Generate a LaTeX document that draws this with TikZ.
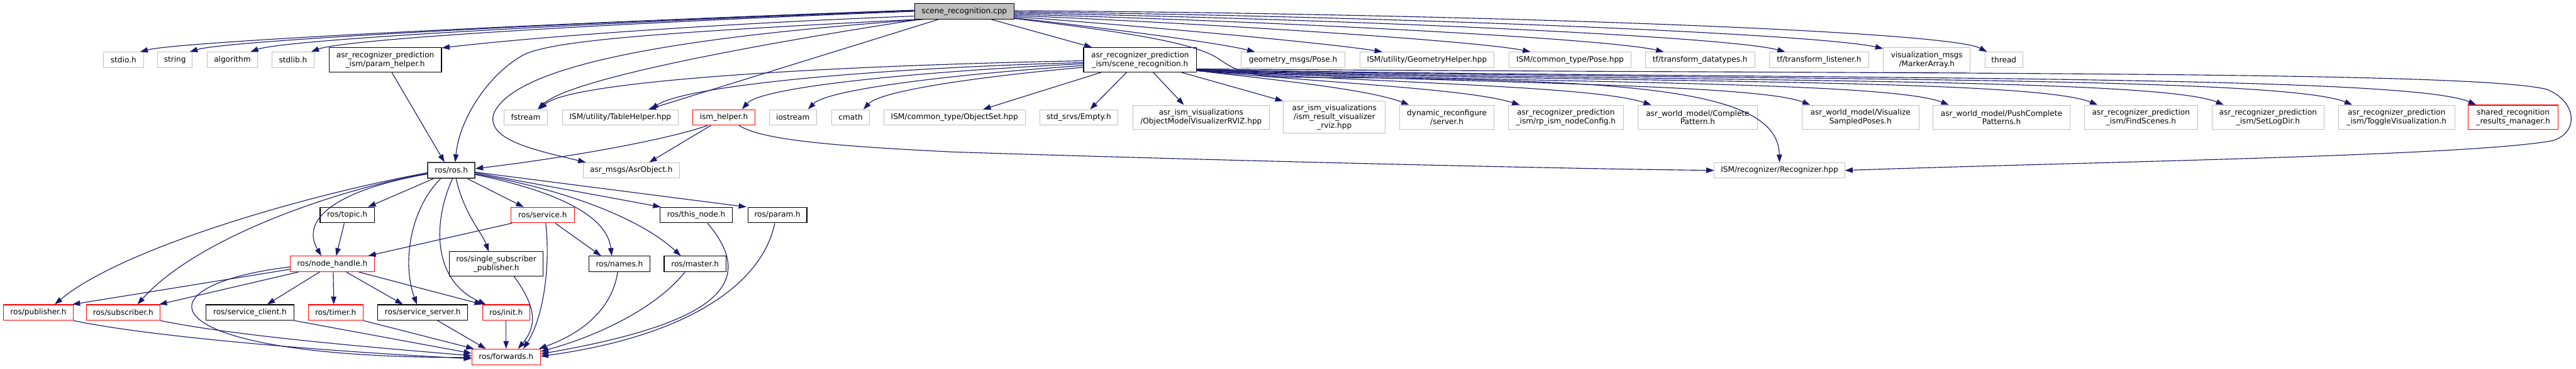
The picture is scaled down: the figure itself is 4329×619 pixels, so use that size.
\documentclass[tikz,border=0pt]{standalone}
\usepackage{fontspec}
\setmainfont{DejaVu Sans}
\usetikzlibrary{arrows.meta}
\definecolor{edgec}{HTML}{191970}
\definecolor{gborder}{HTML}{BFBFBF}
\definecolor{cppfill}{HTML}{BFBFBF}
\definecolor{rborder}{HTML}{FF0000}
\definecolor{rosb}{HTML}{404040}
\begin{document}
\begin{tikzpicture}[x=1pt,y=-1pt,
  box/.style={rectangle, inner sep=0pt, align=center, fill=white, font=\fontsize{12.8}{14.5}\selectfont},
  gb/.style={box, draw=gborder, line width=1pt},
  bb/.style={box, draw=black, line width=1.3pt},
  rb/.style={box, draw=rborder, line width=1.2pt},
  wd/.style={minimum width=#1pt},
  s1/.style={minimum height=26pt},
  s2/.style={minimum height=41pt},
  s3/.style={minimum height=54pt},
  ed/.style={draw=edgec, line width=1.2pt, -{Triangle[length=13pt,width=9pt]}}]
\useasboundingbox (0,0) rectangle (4329,619);
% row 0
\node[bb, fill=cppfill, wd=167, s1] (cpp) at (1620.5,19) {scene\_recognition.cpp};
% row 1
\node[gb, wd=67, s1] (stdio) at (207.5,100.5) {stdio.h};
\node[gb, wd=58, s1] (string) at (294,100.5) {string};
\node[gb, wd=85, s1] (algorithm) at (390.5,100.5) {algorithm};
\node[gb, wd=71, s1] (stdlib) at (492.5,100.5) {stdlib.h};
\node[bb, wd=189, s2] (paramhelper) at (647.5,100.5) {asr\_recognizer\_prediction\\\_ism/param\_helper.h};
\node[bb, wd=190, s2] (sceneh) at (1916,100.5) {asr\_recognizer\_prediction\\\_ism/scene\_recognition.h};
\node[gb, wd=174, s1] (geom) at (2173,100.5) {geometry\_msgs/Pose.h};
\node[gb, wd=226, s1] (geohelp) at (2398,100.5) {ISM/utility/GeometryHelper.hpp};
\node[gb, wd=205, s1] (cpose) at (2638.5,100.5) {ISM/common\_type/Pose.hpp};
\node[gb, wd=184, s1] (tfdata) at (2857,100.5) {tf/transform\_datatypes.h};
\node[gb, wd=166, s1] (tflisten) at (3057,100.5) {tf/transform\_listener.h};
\node[gb, wd=146, s2] (marker) at (3238,100.5) {visualization\_msgs\\/MarkerArray.h};
\node[gb, wd=63, s1] (thread) at (3367.5,100.5) {thread};
% row 2
\node[gb, wd=73, s1] (fstream) at (883.5,197) {fstream};
\node[gb, wd=195, s1] (tablehelper) at (1042.5,197) {ISM/utility/TableHelper.hpp};
\node[rb, wd=105, s1] (ismhelper) at (1216.5,197) {ism\_helper.h};
\node[gb, wd=79, s1] (iostream) at (1332.5,197) {iostream};
\node[gb, wd=63, s1] (cmath) at (1429.5,197) {cmath};
\node[gb, wd=238, s1] (objset) at (1604,197) {ISM/common\_type/ObjectSet.hpp};
\node[gb, wd=132, s1] (empty) at (1813,197) {std\_srvs/Empty.h};
\node[gb, wd=229, s2] (objmodel) at (2018.5,197) {asr\_ism\_visualizations\\/ObjectModelVisualizerRVIZ.hpp};
\node[gb, wd=171, s3] (ismresult) at (2242.5,197) {asr\_ism\_visualizations\\/ism\_result\_visualizer\\\_rviz.hpp};
\node[gb, wd=159, s2] (dynrec) at (2431.5,197) {dynamic\_reconfigure\\/server.h};
\node[gb, wd=193, s2] (rpism) at (2631.5,197) {asr\_recognizer\_prediction\\\_ism/rp\_ism\_nodeConfig.h};
\node[gb, wd=200, s2] (complete) at (2853,197) {asr\_world\_model/Complete\\Pattern.h};
\node[gb, wd=197, s2] (vissampled) at (3126.5,197) {asr\_world\_model/Visualize\\SampledPoses.h};
\node[gb, wd=231, s2] (pushcomplete) at (3363.5,197) {asr\_world\_model/PushComplete\\Patterns.h};
\node[gb, wd=190, s2] (findscenes) at (3598,197) {asr\_recognizer\_prediction\\\_ism/FindScenes.h};
\node[gb, wd=189, s2] (setlogdir) at (3811.5,197) {asr\_recognizer\_prediction\\\_ism/SetLogDir.h};
\node[gb, wd=195, s2] (toggle) at (4027.5,197) {asr\_recognizer\_prediction\\\_ism/ToggleVisualization.h};
\node[rb, wd=151, s2] (shared) at (4223.5,197) {shared\_recognition\\\_results\_manager.h};
% row 3
\node[box, draw=rosb, line width=1.8pt, wd=79, s1] (ros) at (758.5,286) {ros/ros.h};
\node[gb, wd=162, s1] (asrobj) at (1061,286) {asr\_msgs/AsrObject.h};
\node[gb, wd=219, s1] (recog) at (2990.5,286) {ISM/recognizer/Recognizer.hpp};
% row 4
\node[bb, wd=91, s1] (topic) at (583.5,361) {ros/topic.h};
\node[rb, wd=106, s1] (service) at (912,361) {ros/service.h};
\node[bb, wd=122, s1] (thisnode) at (1170,361) {ros/this\_node.h};
\node[bb, wd=99, s1] (rosparam) at (1306.5,361) {ros/param.h};
% row 5
\node[rb, wd=141, s1] (nodehandle) at (558.5,443) {ros/node\_handle.h};
\node[bb, wd=158, s2] (single) at (834,443) {ros/single\_subscriber\\\_publisher.h};
\node[bb, wd=102, s1] (names) at (1041,443) {ros/names.h};
\node[bb, wd=104, s1] (master) at (1168,443) {ros/master.h};
% row 6
\node[rb, wd=117, s1] (publisher) at (64.5,524.5) {ros/publisher.h};
\node[rb, wd=124, s1] (subscriber) at (207,524.5) {ros/subscriber.h};
\node[bb, wd=148, s1] (sclient) at (420,524.5) {ros/service\_client.h};
\node[rb, wd=92, s1] (timer) at (564,524.5) {ros/timer.h};
\node[bb, wd=151, s1] (sserver) at (710.5,524.5) {ros/service\_server.h};
\node[rb, wd=79, s1] (init) at (850.5,524.5) {ros/init.h};
% row 7
\node[rb, wd=115, s1] (forwards) at (850.5,599) {ros/forwards.h};

% ---- edges from cpp (left)
\draw[ed] ([yshift=2pt]cpp.west) .. controls (900,40) and (300,70) .. ([xshift=28pt]stdio.north);
\draw[ed] ([yshift=1.5pt]cpp.west) .. controls (950,38) and (380,68) .. ([xshift=25pt]string.north);
\draw[ed] ([yshift=1pt]cpp.west) .. controls (1000,38) and (480,66) .. ([xshift=30.5pt]algorithm.north);
\draw[ed] (cpp.west) .. controls (1050,38) and (580,65) .. ([xshift=30.5pt]stdlib.north);
\draw[ed] ([yshift=-8pt]cpp.west) .. controls (1200,40) and (900,62) .. ([yshift=-1pt]paramhelper.north east);
\draw[ed] ([xshift=3pt]cpp.south west) .. controls (1100,55) and (930,68) .. (880,92) .. controls (820,125) and (772,200) .. ([xshift=6.5pt]ros.north);
\draw[ed] ([xshift=15pt]cpp.south west) .. controls (1200,58) and (870,100) .. (830,190) .. controls (815,235) and (900,252) .. ([xshift=5pt]asrobj.north west);
\draw[ed] ([xshift=8pt]cpp.south west) .. controls (1300,70) and (960,130) .. ([xshift=20pt]fstream.north);
\draw[ed] ([xshift=-43.5pt]cpp.south) -- ([xshift=47pt]tablehelper.north);
\draw[ed] ([xshift=45.5pt]cpp.south) -- ([xshift=-81pt]sceneh.north);
% ---- edges from cpp (right)
\draw[ed] ([yshift=-11pt]cpp.east) .. controls (1830,44) and (2040,70) .. ([xshift=-64pt]geom.north);
\draw[ed] ([yshift=-9pt]cpp.east) .. controls (1900,42) and (2230,72) .. ([xshift=-75pt]geohelp.north);
\draw[ed] ([yshift=-7pt]cpp.east) .. controls (2000,38) and (2480,68) .. ([xshift=-66.5pt]cpose.north);
\draw[ed] ([yshift=-5pt]cpp.east) .. controls (2100,34) and (2700,64) .. ([xshift=-61pt]tfdata.north);
\draw[ed] ([yshift=-3pt]cpp.east) .. controls (2200,30) and (2900,60) .. ([xshift=-57pt]tflisten.north);
\draw[ed] ([yshift=-1pt]cpp.east) .. controls (2300,26) and (3050,56) .. ([yshift=-2pt]marker.north west);
\draw[ed] ([yshift=1pt]cpp.east) .. controls (2400,22) and (3270,50) .. ([xshift=-28.5pt]thread.north);
\draw[ed] ([yshift=-12pt]cpp.east) .. controls (1900,55) and (2010,72) .. (2050,100) .. controls (2085,125) and (2110,129) .. (2200,130) .. controls (2750,133) and (2988,150) .. (recog.north);
% ---- scene_recognition.h left fan
\draw[ed] ([yshift=-1.5pt]sceneh.west) .. controls (1400,110) and (960,135) .. ([xshift=23pt]fstream.north);
\draw[ed] ([yshift=-4.5pt]sceneh.west) .. controls (1450,115) and (1150,145) .. ([xshift=51pt]tablehelper.north);
\draw[ed] ([yshift=-6.5pt]sceneh.west) .. controls (1550,120) and (1280,145) .. ([xshift=30.5pt]ismhelper.north);
\draw[ed] ([yshift=-9.5pt]sceneh.west) .. controls (1600,125) and (1390,150) .. ([xshift=25.5pt]iostream.north);
\draw[ed] ([yshift=-12.5pt]sceneh.west) .. controls (1650,128) and (1480,152) .. ([xshift=21.5pt]cmath.north);
% ---- scene_recognition.h bottom
\draw[ed] ([xshift=-66pt]sceneh.south) -- ([xshift=48pt]objset.north);
\draw[ed] ([xshift=-23pt]sceneh.south) -- ([xshift=19pt]empty.north);
\draw[ed] ([xshift=22pt]sceneh.south) -- ([xshift=-29pt]objmodel.north);
\draw[ed] ([xshift=70pt]sceneh.south) -- ([xshift=-86.5pt]ismresult.north);
% ---- scene_recognition.h right fan
\draw[ed] ([yshift=3pt]sceneh.south east) .. controls (2150,135) and (2300,150) .. ([xshift=-63.5pt]dynrec.north);
\draw[ed] ([yshift=3pt]sceneh.south east) .. controls (2250,140) and (2470,150) .. ([xshift=-77.5pt]rpism.north);
\draw[ed] ([yshift=3pt]sceneh.south east) .. controls (2350,140) and (2680,145) .. ([xshift=-78pt]complete.north);
\draw[ed] ([yshift=3pt]sceneh.south east) .. controls (2450,140) and (2950,140) .. ([xshift=-84.5pt]vissampled.north);
\draw[ed] ([yshift=3pt]sceneh.south east) .. controls (2550,140) and (3170,135) .. ([xshift=-88.5pt]pushcomplete.north);
\draw[ed] ([yshift=4pt]sceneh.south east) .. controls (2650,140) and (3410,130) .. ([xshift=-73pt]findscenes.north);
\draw[ed] ([yshift=4pt]sceneh.south east) .. controls (2750,138) and (3620,128) .. ([xshift=-74.5pt]setlogdir.north);
\draw[ed] ([yshift=5pt]sceneh.south east) .. controls (2850,136) and (3830,125) .. ([xshift=-74.5pt]toggle.north);
\draw[ed] ([yshift=5pt]sceneh.south east) .. controls (2950,134) and (4040,123) .. ([xshift=-62.5pt]shared.north);
\draw[ed] ([yshift=6pt]sceneh.south east) .. controls (3200,125) and (4150,118) .. (4280,150) .. controls (4330,170) and (4335,222) .. (4290,236) .. controls (4150,262) and (3500,272) .. (recog.east);
% ---- ism_helper
\draw[ed] ([xshift=-27.5pt]ismhelper.south) .. controls (1120,235) and (950,265) .. ([yshift=3pt]ros.east);
\draw[ed] ([xshift=-22pt]ismhelper.south) -- ([xshift=30pt]asrobj.north);
\draw[ed] ([xshift=25.5pt]ismhelper.south) .. controls (1280,235) and (1400,245) .. (1600,255) .. controls (2000,268) and (2600,283) .. (recog.west);
% ---- param_helper
\draw[ed] ([xshift=11pt]paramhelper.south) -- ([xshift=-11.5pt]ros.north);
% ---- ros/ros.h
\draw[ed] ([xshift=-30pt]ros.south) -- ([xshift=35pt]topic.north);
\draw[ed] ([xshift=27pt]ros.south) -- ([xshift=-32pt]service.north);
\draw[ed] ([yshift=-4pt]ros.east) -- ([xshift=2pt]thisnode.north west);
\draw[ed] ([yshift=-3pt]ros.east) -- ([xshift=-2pt]rosparam.north west);
\draw[ed] ([yshift=-6pt]ros.west) .. controls (560,320) and (505,370) .. ([xshift=-18.5pt]nodehandle.north);
\draw[ed] ([yshift=-4pt]ros.west) .. controls (500,330) and (200,420) .. ([xshift=27.5pt]publisher.north);
\draw[ed] ([yshift=-5pt]ros.west) .. controls (560,320) and (330,400) .. ([xshift=24pt]subscriber.north);
\draw[ed] ([xshift=8pt]ros.south) .. controls (780,360) and (810,390) .. ([xshift=-13pt]single.north);
\draw[ed] ([xshift=-18pt]ros.south) .. controls (690,350) and (675,440) .. ([xshift=-10pt]sserver.north);
\draw[ed] ([xshift=2pt]ros.south) .. controls (728,370) and (725,470) .. ([xshift=6pt]init.north west);
\draw[ed] ([yshift=-7pt]ros.east) .. controls (930,320) and (1020,360) .. ([xshift=-13pt]names.north);
\draw[ed] ([yshift=-6pt]ros.east) .. controls (960,320) and (1080,370) .. ([xshift=-24pt]master.north);
% ---- service / topic
\draw[ed] ([xshift=2pt]service.south west) -- ([xshift=-11pt]nodehandle.north east);
\draw[ed] ([xshift=21pt]service.south) -- ([xshift=-31pt]names.north);
\draw[ed] ([xshift=5pt]service.south) .. controls (925,440) and (915,530) .. ([xshift=29pt]forwards.north);
\draw[ed] ([xshift=-5pt]topic.south) -- ([xshift=6.5pt]nodehandle.north);
% ---- node_handle
\draw[ed] ([yshift=-9pt]nodehandle.west) -- ([xshift=-2pt]publisher.north east);
\draw[ed] ([xshift=14pt]nodehandle.south west) -- ([xshift=-2pt]subscriber.north east);
\draw[ed] ([xshift=-21.5pt]nodehandle.south) -- ([xshift=29pt]sclient.north);
\draw[ed] ([xshift=1.5pt]nodehandle.south) -- ([xshift=-3pt]timer.north);
\draw[ed] ([xshift=23.5pt]nodehandle.south) -- ([xshift=-33.5pt]sserver.north);
\draw[ed] ([xshift=44.5pt]nodehandle.south) -- (init.north west);
\draw[ed] ([yshift=-5pt]nodehandle.west) .. controls (220,480) and (250,600) .. ([yshift=-1pt]forwards.west);
% ---- into forwards
\draw[ed] (publisher.south east) .. controls (250,565) and (550,590) .. ([yshift=-3pt]forwards.west);
\draw[ed] (subscriber.south east) .. controls (400,565) and (650,585) .. ([yshift=2pt]forwards.west);
\draw[ed] (sclient.south east) -- ([yshift=6pt]forwards.west);
\draw[ed] (timer.south east) -- ([xshift=4pt]forwards.north west);
\draw[ed] ([xshift=25pt]sserver.south) -- ([xshift=-34pt]forwards.north);
\draw[ed] (init.south) -- (forwards.north);
\draw[ed] ([xshift=30pt]single.south) .. controls (905,520) and (900,550) .. ([xshift=20pt]forwards.north);
\draw[ed] ([xshift=-3pt]names.south) .. controls (1030,510) and (990,555) .. ([xshift=-3pt]forwards.north east);
\draw[ed] ([xshift=-17pt]master.south) .. controls (1100,520) and (1000,565) .. ([yshift=9pt]forwards.east);
\draw[ed] ([xshift=19pt]thisnode.south) .. controls (1270,470) and (1220,540) .. ([yshift=5pt]forwards.east);
\draw[ed] ([xshift=-4.5pt]rosparam.south) .. controls (1280,480) and (1150,565) .. ([yshift=1pt]forwards.east);
\end{tikzpicture}
\end{document}
